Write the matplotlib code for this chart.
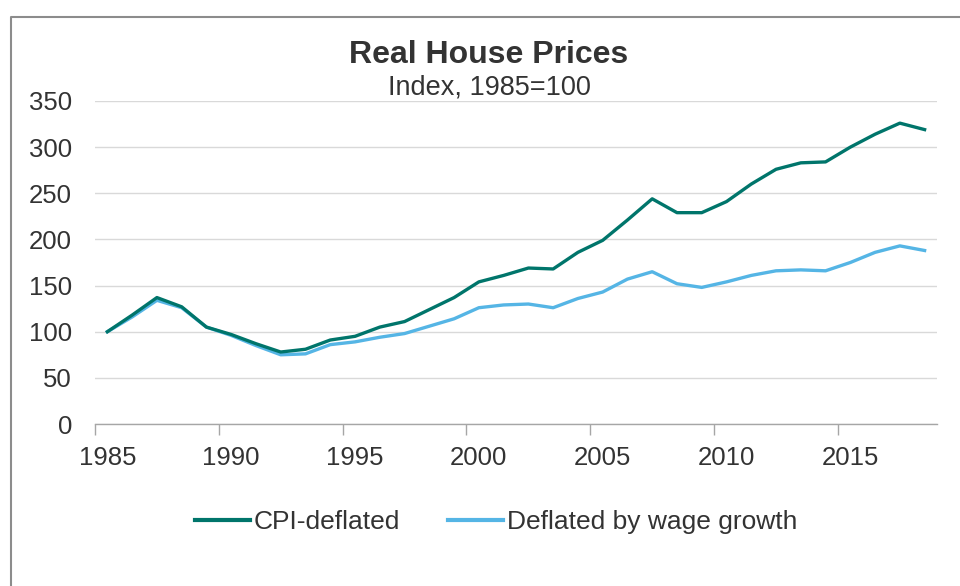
import matplotlib
matplotlib.use("Agg")
import matplotlib.pyplot as plt
from matplotlib.lines import Line2D

plt.rcParams['font.family'] = ['Liberation Sans', 'DejaVu Sans']

years = list(range(1985, 2019))
cpi_deflated = [100, 118, 137, 127, 105, 97, 87, 78, 81, 91, 95, 105, 111, 124, 137, 154, 161, 169, 168, 186, 199, 221, 244, 229, 229, 241, 260, 276, 283, 284, 300, 314, 326, 319]
wage_deflated = [100, 116, 134, 126, 105, 96, 85, 75, 76, 86, 89, 94, 98, 106, 114, 126, 129, 130, 126, 136, 143, 157, 165, 152, 148, 154, 161, 166, 167, 166, 175, 186, 193, 188]
tick_years = [1985, 1990, 1995, 2000, 2005, 2010, 2015]
y_ticks = [0, 50, 100, 150, 200, 250, 300, 350]

title = "Real House Prices"
subtitle = "Index, 1985=100"
series_names = ["CPI-deflated", "Deflated by wage growth"]
colors = ["#00756B", "#55B5E5"]
text_color = "#333333"

fig = plt.figure(figsize=(9.6, 5.86), dpi=100)
ax = fig.add_axes([95/960, 1-424/586, (937-95)/960, (424-101)/586])

xs = [y + 0.5 for y in years]
ax.plot(xs, cpi_deflated, color=colors[0], lw=2.4, solid_joinstyle='round', zorder=3)
ax.plot(xs, wage_deflated, color=colors[1], lw=2.4, solid_joinstyle='round', zorder=2)

ax.set_xlim(1985, 2019)
ax.set_ylim(0, 350)
ax.set_yticks(y_ticks)
ax.yaxis.grid(True, color="#D9D9D9", lw=1)
ax.set_axisbelow(True)
ax.tick_params(axis='y', length=0, pad=16.5, labelsize=18.5, labelcolor=text_color)

ax.set_xticks(tick_years)
ax.set_xticklabels([])
ax.set_xticks([y + 0.5 for y in tick_years], minor=True)
ax.set_xticklabels([str(y) for y in tick_years], minor=True)
ax.tick_params(axis='x', which='major', length=8, width=1, color="#A6A6A6", direction='out')
ax.tick_params(axis='x', which='minor', length=0, pad=16, labelsize=18.5, labelcolor=text_color)

for s in ['top', 'right', 'left']:
    ax.spines[s].set_visible(False)
ax.spines['bottom'].set_color("#A6A6A6")
ax.spines['bottom'].set_linewidth(1)

fig.text(489/960, 1-55/586, title, ha='center', va='center', fontsize=23, fontweight='bold', color=text_color)
fig.text(489/960, 1-88/586, subtitle, ha='center', va='center', fontsize=19.5, color=text_color)

handles = [Line2D([0], [0], color=c, lw=3) for c in colors]
fig.legend(handles, series_names, loc='center', bbox_to_anchor=(496/960, 1-522/586), ncol=2,
           frameon=False, fontsize=19, handlelength=2.1, handletextpad=0.15, columnspacing=1.8,
           labelcolor=text_color)

# outer border (left and top visible)
fig.add_artist(Line2D([10.5/960, 10.5/960, 1.0], [0.0, 1-16.5/586, 1-16.5/586],
                      transform=fig.transFigure, color="#8C8C8C", lw=1.5))

fig.savefig("out.png", dpi=100)
